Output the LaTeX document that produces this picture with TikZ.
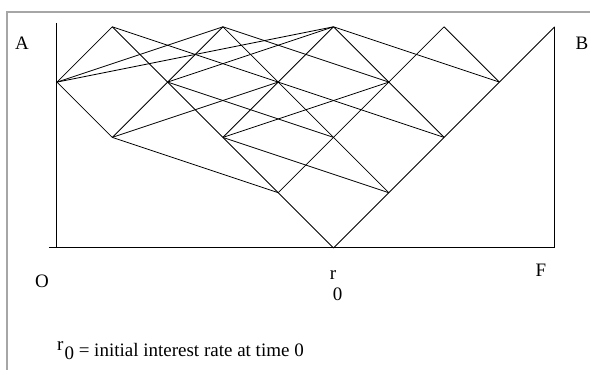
\documentclass[tikz,border=0pt]{standalone}
\usepackage{fontspec}
\setmainfont{Liberation Serif}
\tikzset{
  treeline/.style={line width=0.8pt,draw=black},
  axisline/.style={line width=1pt,draw=black},
  frameline/.style={line width=1.2pt,draw=gray!70},
  axlabel/.style={font=\fontsize{19}{23}\selectfont,inner sep=0pt},
}

\begin{document}
\begin{tikzpicture}[x=55.3pt,y=55.3pt]
  \useasboundingbox (-1.0307,-2.2061) rectangle (9.6383,4.4846);
  % outer frame
  \draw[frameline] (-0.904,-2.3) -- (-0.904,4.268) -- (9.7,4.268);
  % tree points
  \coordinate (n50) at (5,0);
  \coordinate (n41) at (4,1);
  \coordinate (n61) at (6,1);
  \coordinate (n12) at (1,2);
  \coordinate (n32) at (3,2);
  \coordinate (n52) at (5,2);
  \coordinate (n72) at (7,2);
  \coordinate (n03) at (0,3);
  \coordinate (n23) at (2,3);
  \coordinate (n43) at (4,3);
  \coordinate (n63) at (6,3);
  \coordinate (n83) at (8,3);
  \coordinate (n14) at (1,4);
  \coordinate (n34) at (3,4);
  \coordinate (n54) at (5,4);
  \coordinate (n74) at (7,4);
  \coordinate (n94) at (9,4);
  % axes
  \coordinate (axtop) at (0,4.07);
  \coordinate (axorg) at (0,0);
  \coordinate (axleft) at (-0.145,0);
  \coordinate (axright) at (9,0);
  \draw[axisline] (axtop) -- (axorg);
  \draw[axisline] (axleft) -- (axright) -- (n94);
  % diagonal steps
  \draw[treeline] (n50) -- (n41);
  \draw[treeline] (n50) -- (n61);
  \draw[treeline] (n41) -- (n32);
  \draw[treeline] (n41) -- (n52);
  \draw[treeline] (n61) -- (n52);
  \draw[treeline] (n61) -- (n72);
  \draw[treeline] (n12) -- (n03);
  \draw[treeline] (n12) -- (n23);
  \draw[treeline] (n32) -- (n23);
  \draw[treeline] (n32) -- (n43);
  \draw[treeline] (n52) -- (n43);
  \draw[treeline] (n52) -- (n63);
  \draw[treeline] (n72) -- (n63);
  \draw[treeline] (n72) -- (n83);
  \draw[treeline] (n03) -- (n14);
  \draw[treeline] (n23) -- (n14);
  \draw[treeline] (n23) -- (n34);
  \draw[treeline] (n43) -- (n34);
  \draw[treeline] (n43) -- (n54);
  \draw[treeline] (n63) -- (n54);
  \draw[treeline] (n63) -- (n74);
  \draw[treeline] (n83) -- (n74);
  \draw[treeline] (n83) -- (n94);
  % long steps
  \draw[treeline] (n41) -- (n12);
  \draw[treeline] (n61) -- (n32);
  \draw[treeline] (n12) -- (n43);
  \draw[treeline] (n32) -- (n63);
  \draw[treeline] (n52) -- (n23);
  \draw[treeline] (n72) -- (n43);
  \draw[treeline] (n03) -- (n34);
  \draw[treeline] (n03) -- (n54);
  \draw[treeline] (n23) -- (n54);
  \draw[treeline] (n43) -- (n14);
  \draw[treeline] (n63) -- (n34);
  \draw[treeline] (n83) -- (n54);
  % labels
  \node[axlabel] (labA) at (-0.633,3.707) {A};
  \node[axlabel] (labB) at (9.494,3.707) {B};
  \node[axlabel] (labO) at (-0.271,-0.597) {O};
  \node[axlabel] (labF) at (8.752,-0.398) {F};
  \node[axlabel,align=left,anchor=north west] (labr) at (4.93,-0.41) {r\\[-2pt]\hspace*{3pt}0};
  \node[axlabel,anchor=base west] (legend) at (0.0,-1.971)
    {\raisebox{6pt}{r}\hspace{1pt}\raisebox{-3pt}{0} = initial interest rate at time 0};
\end{tikzpicture}
\end{document}
